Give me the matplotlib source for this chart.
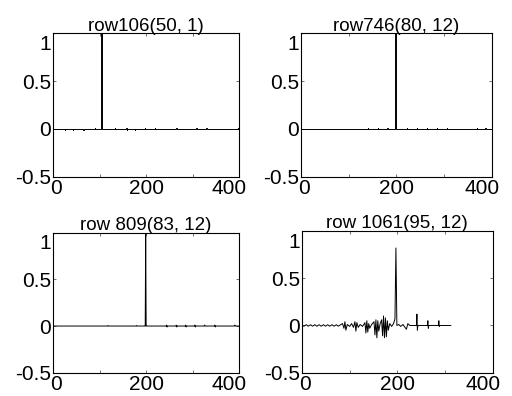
import numpy as np
import matplotlib.pyplot as plt
from matplotlib.transforms import ScaledTranslation

plt.rcParams['font.family'] = ['Liberation Sans', 'DejaVu Sans']
plt.rcParams['path.simplify'] = False

# sparse rows: index of non-zero samples and their values (rest is 0)
n_samples = 401
row106_idx = [25, 43, 65, 90, 104, 105, 133, 158, 159, 176, 197, 219, 265, 308, 330, 398]
row106_val = [-0.01, -0.01, -0.01, 0.01, 1.0, 0.5, 0.01, 0.012, -0.01, -0.01,
              0.01, 0.01, 0.01, 0.01, 0.01, 0.01]
row746_idx = [140, 161, 181, 198, 199, 222, 243, 264, 285, 306, 369, 387]
row746_val = [0.01, 0.01, 0.01, 1.0, 0.5, 0.01, 0.01, 0.01, 0.01, 0.01, 0.01, 0.01]
row809_idx = [118, 179, 199, 244, 245, 265, 266, 285, 286, 305, 306, 326, 348, 349, 391]
row809_val = [0.005, 0.005, 1.0, 0.01, -0.01, 0.01, -0.01, 0.01, -0.01, 0.01,
              -0.01, 0.01, 0.01, -0.01, 0.01]

row1061_x = [0, 4, 9, 13, 18, 22, 27, 31, 36, 40, 45, 49, 54, 58, 63, 67, 72, 76, 81,
             85, 88, 90, 92, 95, 100, 104, 108, 111, 113, 115, 118, 122, 127,
             132, 134, 136, 138, 140, 142, 146,
             151, 153, 155, 157, 159, 161, 164,
             167, 169, 171, 173, 175, 177, 179, 181, 184, 188, 192, 195,
             197, 198, 199, 203, 207, 212, 216, 219, 222, 226,
             240, 241, 242, 243, 263, 264, 265, 266, 286, 287, 288, 289, 312]
row1061_y = [0.0, -0.008, 0.008, -0.008, 0.008, -0.008, 0.008, -0.008, 0.008, -0.008,
             0.008, -0.008, 0.008, -0.008, 0.008, -0.008, 0.008, -0.008, 0.008,
             0.02, -0.03, 0.04, -0.05, 0.01, -0.01, 0.02, -0.02, 0.04, -0.06, 0.03,
             -0.02, 0.01, -0.01,
             0.03, -0.08, 0.05, -0.07, 0.02, -0.03, 0.01,
             0.04, -0.10, 0.06, -0.13, 0.05, -0.06, 0.02,
             0.06, -0.11, 0.10, -0.13, 0.08, -0.12, 0.05, -0.05, 0.02, -0.01, 0.02, 0.07,
             0.82, 0.42, 0.0, 0.01, -0.01, 0.01, -0.02, -0.04, 0.02, 0.0,
             0.0, 0.12, -0.05, 0.0, 0.0, 0.05, -0.03, 0.0, 0.0, 0.05, -0.01, 0.0, 0.0]

titles = ['row106(50, 1)', 'row746(80, 12)', 'row 809(83, 12)', 'row 1061(95, 12)']
xticks = [0, 100, 200, 300, 400]
xticklabels = ['0', '', '200', '', '400']
yticks = [-0.5, 0, 0.5, 1]
yticklabels = ['-0.5', '0', '0.5', '1']

fig = plt.figure(figsize=(5.12, 3.96), dpi=100)
# [left, bottom, width, height] in figure fraction
positions = [
    [53.3 / 512, (396 - 176.7) / 396, 185.7 / 512, 143.4 / 396],
    [301 / 512, (396 - 176.7) / 396, 190.7 / 512, 143.4 / 396],
    [53.3 / 512, (396 - 372.7) / 396, 185.7 / 512, 140 / 396],
    [302 / 512, (396 - 372.7) / 396, 190.7 / 512, 141.7 / 396],
]

sparse = [(row106_idx, row106_val), (row746_idx, row746_val), (row809_idx, row809_val)]
styles = ['steps-mid', 'steps-mid', 'default']

for k in range(4):
    ax = fig.add_axes(positions[k])
    if k < 3:
        y = np.zeros(n_samples)
        y[sparse[k][0]] = sparse[k][1]
        ax.plot(np.arange(n_samples), y, color='black', lw=0.7, drawstyle=styles[k])
    else:
        ax.plot(row1061_x, row1061_y, color='black', lw=0.7)
    ax.set_xlim(0, 400)
    ax.set_ylim(-0.5, 1)
    ax.set_xticks(xticks)
    ax.set_xticklabels(xticklabels)
    ax.set_yticks(yticks)
    ax.set_yticklabels(yticklabels)
    ax.tick_params(direction='in', top=True, right=True, length=2.5, width=0.6,
                   color='0.35', labelsize=15, pad=1.5)
    for s in ax.spines.values():
        s.set_linewidth(0.8)
    ax.set_title(titles[k], fontsize=13.5, pad=2)

    # nudge end labels inward like the original
    xl = ax.get_xticklabels()
    xl[0].set_transform(xl[0].get_transform() + ScaledTranslation(0.03, 0, fig.dpi_scale_trans))
    xl[-1].set_transform(xl[-1].get_transform() + ScaledTranslation(-0.10, 0, fig.dpi_scale_trans))
    yl = ax.get_yticklabels()
    yl[-1].set_transform(yl[-1].get_transform() + ScaledTranslation(0, -0.09, fig.dpi_scale_trans))

fig.savefig('out.png', dpi=100)
